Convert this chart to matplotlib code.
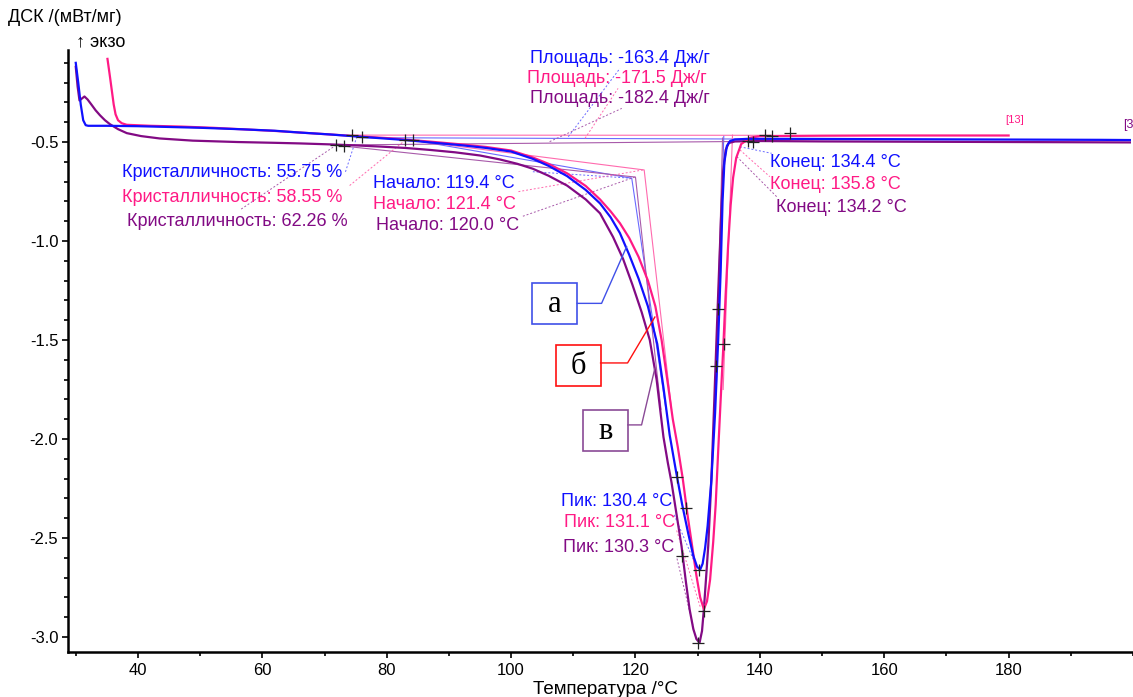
import matplotlib
matplotlib.use('Agg')
import matplotlib.pyplot as plt
from matplotlib.patches import Rectangle
from matplotlib.ticker import MultipleLocator

plt.rcParams['font.family'] = ['Liberation Sans', 'DejaVu Sans']
plt.rcParams['axes.unicode_minus'] = False

# --- curve a (blue) ---
temp_a = [30.0, 30.4, 30.8, 31.2, 31.6, 32.0, 35, 40, 45, 50, 57, 62, 66, 71, 76, 80, 83, 87,
          92, 96, 100, 103.5, 106, 109, 112, 114.3, 116, 117.5, 119, 120.5, 122, 123.5, 124.5,
          125.5, 126.5, 127.5, 128.5, 129.3, 129.9, 130.4, 130.8, 131.2, 131.6, 132.2, 132.8,
          133.3, 133.7, 134.0, 134.3, 134.7, 135.2, 136, 138, 145, 155, 165, 175, 185, 195, 199.5]
dsc_a = [-0.10, -0.20, -0.31, -0.39, -0.415, -0.418, -0.418, -0.420, -0.424, -0.428, -0.436,
         -0.443, -0.452, -0.462, -0.474, -0.483, -0.490, -0.502, -0.516, -0.530, -0.548, -0.585,
         -0.62, -0.672, -0.742, -0.81, -0.88, -0.96, -1.07, -1.19, -1.33, -1.52, -1.74, -1.98,
         -2.16, -2.33, -2.48, -2.59, -2.645, -2.66, -2.63, -2.55, -2.44, -2.21, -1.87, -1.50,
         -1.15, -0.80, -0.60, -0.52, -0.495, -0.487, -0.484, -0.484, -0.485, -0.486, -0.487,
         -0.488, -0.489, -0.49]

# --- curve b (pink) ---
temp_b = [35.1, 35.5, 35.8, 36.1, 36.4, 36.8, 37.4, 38.2, 42, 47, 52, 57, 62, 66, 71, 76, 80, 83,
          87, 92, 96, 100, 103.5, 106, 109, 112, 114.3, 116, 117.5, 119, 120.5, 122, 123.2, 124.2,
          125.2, 126.0, 126.8, 127.6, 128.4, 129.2, 129.8, 130.4, 131.0, 131.5, 132.0, 132.5,
          132.9, 133.3, 133.7, 134.1, 134.5, 134.9, 135.3, 135.7, 136.2, 137.0, 138.5, 140, 150,
          160, 170, 180]
dsc_b = [-0.08, -0.17, -0.24, -0.31, -0.36, -0.39, -0.405, -0.413, -0.418, -0.422, -0.428,
         -0.436, -0.444, -0.452, -0.462, -0.472, -0.480, -0.488, -0.498, -0.512, -0.525, -0.543,
         -0.578, -0.61, -0.658, -0.722, -0.79, -0.85, -0.91, -0.985, -1.08, -1.20, -1.33, -1.50,
         -1.72, -1.90, -2.04, -2.20, -2.39, -2.56, -2.69, -2.80, -2.86, -2.82, -2.71, -2.52,
         -2.33, -2.06, -1.80, -1.55, -1.27, -1.02, -0.82, -0.68, -0.58, -0.51, -0.478, -0.470,
         -0.468, -0.467, -0.467, -0.467]

# --- curve c (purple) ---
temp_c = [30.0, 30.3, 30.6, 31.0, 31.4, 31.9, 32.5, 33.2, 33.9, 34.7, 35.5, 36.8, 38.2, 40.5,
          43.5, 48.8, 56, 62, 66, 71, 75, 79, 83, 87, 91, 95, 98.2, 101, 103.5, 106, 109, 112,
          114.3, 116.4, 118, 119.5, 121, 122.3, 123.4, 124.5, 125.2, 125.8, 126.6, 127.4, 128.1,
          128.7, 129.3, 129.8, 130.3, 130.7, 131.0, 131.4, 131.7, 132.2, 132.6, 133.0, 133.4,
          133.8, 134.1, 134.5, 135.0, 136, 140, 150, 160, 170, 180, 190, 199.5]
dsc_c = [-0.12, -0.22, -0.29, -0.28, -0.27, -0.285, -0.31, -0.34, -0.365, -0.39, -0.41, -0.435,
         -0.455, -0.47, -0.482, -0.493, -0.500, -0.504, -0.507, -0.512, -0.517, -0.523, -0.530,
         -0.540, -0.552, -0.568, -0.588, -0.61, -0.635, -0.67, -0.72, -0.79, -0.86, -0.98, -1.09,
         -1.22, -1.36, -1.50, -1.70, -1.99, -2.12, -2.22, -2.38, -2.54, -2.72, -2.86, -2.96,
         -3.01, -3.03, -2.97, -2.86, -2.68, -2.54, -2.21, -1.87, -1.52, -1.18, -0.85, -0.65,
         -0.54, -0.505, -0.497, -0.495, -0.497, -0.498, -0.499, -0.500, -0.501, -0.502]

# evaluation results per curve
crystallinity = [55.75, 58.55, 62.26]
onset = [119.4, 121.4, 120.0]
area = [-163.4, -171.5, -182.4]
end_temp = [134.4, 135.8, 134.2]
peak_temp = [130.4, 131.1, 130.3]

# integration baselines (left point, right point) per curve
base_left = [(75.7, -0.478), (74.4, -0.465), (71.9, -0.515)]
base_right = [(138.4, -0.485), (141.9, -0.466), (144.8, -0.495)]
# onset construction: baseline start, corner at onset, tangent end
onset_start = [(84.2, -0.49), (83.0, -0.488), (72.9, -0.52)]
onset_corner_y = [-0.683, -0.641, -0.677]
onset_tan_end = [(124.9, -1.85), (125.8, -1.85), (124.1, -1.85)]
# end construction: tangent on trailing edge
end_tan = [((134.2, -0.47), (133.0, -1.75)), ((135.6, -0.465), (134.1, -1.75)),
           ((134.0, -0.48), (132.9, -1.75))]

# black "+" evaluation marks
mark_x = [74.4, 76.0, 71.9, 73.1, 83.0, 84.2, 138.1, 138.9, 140.8, 141.9, 144.8,
          126.6, 128.2, 127.5, 130.2, 131.0, 130.0, 133.3, 134.3, 133.0]
mark_y = [-0.465, -0.476, -0.515, -0.52, -0.49, -0.49, -0.495, -0.498, -0.465, -0.47, -0.455,
          -2.19, -2.35, -2.59, -2.66, -2.87, -3.03, -1.345, -1.52, -1.63]

curve_cols = ['#1010ff', '#ff1a85', '#820a84']
thin_cols = ['#6a6aff', '#ff6aae', '#a85aaa']

fig = plt.figure(figsize=(11.33, 6.97), dpi=100)
ax = fig.add_axes([0.060, 0.0646, 0.940, 0.8637])

# construction lines (thin)
for i in range(3):
    c = thin_cols[i]
    ax.plot([base_left[i][0], base_right[i][0]], [base_left[i][1], base_right[i][1]],
            color=c, lw=0.8)
    ax.plot([onset_start[i][0], onset[i], onset_tan_end[i][0]],
            [onset_start[i][1], onset_corner_y[i], onset_tan_end[i][1]], color=c, lw=0.8)
    ax.plot([end_tan[i][0][0], end_tan[i][1][0]], [end_tan[i][0][1], end_tan[i][1][1]],
            color=c, lw=0.8)

ax.plot(temp_c, dsc_c, color=curve_cols[2], lw=1.6, zorder=3)
ax.plot(temp_b, dsc_b, color=curve_cols[1], lw=1.6, zorder=3)
ax.plot(temp_a, dsc_a, color=curve_cols[0], lw=1.6, zorder=3)

ax.plot(mark_x, mark_y, ls='none', marker='+', ms=8, mew=0.9, color='#222222', zorder=4)

fs = 13
cry_pos = [(37.4, -0.652), (37.4, -0.778), (38.2, -0.899)]
cry_lead = [((75.2, -0.473), (73.3, -0.657)), ((83.0, -0.49), (73.8, -0.726)),
            ((71.9, -0.515), (56.4, -0.843))]
on_pos = [(77.8, -0.712), (77.8, -0.818), (78.3, -0.924)]
on_lead = [((119.4, -0.683), (103.5, -0.65)), ((121.2, -0.641), (101.1, -0.751)),
           ((119.9, -0.677), (101.7, -0.877))]
ar_pos = [(103.0, -0.076), (102.6, -0.177), (103.0, -0.278)]
ar_lead = [((109.2, -0.473), (117.5, -0.128)), ((111.9, -0.481), (117.2, -0.229)),
           ((106.2, -0.498), (117.8, -0.330))]
end_pos = [(141.6, -0.601), (141.6, -0.717), (142.6, -0.833)]
end_lead = [((136.8, -0.524), (141.9, -0.557)), ((136.8, -0.540), (141.6, -0.675)),
            ((136.3, -0.574), (142.7, -0.776))]
pk_pos = [(125.9, -2.318), (126.3, -2.424), (126.3, -2.55)]
pk_lead = [((129.8, -2.645), (126.1, -2.375)), ((130.4, -2.847), (126.6, -2.46)),
           ((129.8, -3.015), (126.6, -2.594))]

for i in range(3):
    c = curve_cols[i]
    tc = thin_cols[i]
    ax.text(*cry_pos[i], f'Кристалличность: {crystallinity[i]:.2f} %', color=c, fontsize=fs,
            va='center', ha='left')
    ax.text(*on_pos[i], f'Начало: {onset[i]:.1f} °C', color=c, fontsize=fs, va='center')
    ax.text(*ar_pos[i], f'Площадь: {area[i]:.1f} Дж/г', color=c, fontsize=fs, va='center')
    ax.text(*end_pos[i], f'Конец: {end_temp[i]:.1f} °C', color=c, fontsize=fs, va='center')
    ax.text(*pk_pos[i], f'Пик: {peak_temp[i]:.1f} °C', color=c, fontsize=fs, va='center',
            ha='right')
    for lead in (cry_lead, on_lead, ar_lead, end_lead, pk_lead):
        (x0, y0), (x1, y1) = lead[i]
        ax.plot([x0, x1], [y0, y1], color=tc, lw=0.7, ls=(0, (2, 2)))

# sample label boxes
box_txt = ['а', 'б', 'в']
box_xy = [(103.39, -1.419), (107.20, -1.732), (111.59, -2.061)]
box_col = ['#4050e8', '#ff1010', '#8a4a96']
box_lead = [([110.63, 114.55, 118.57], [-1.315, -1.315, -1.029]),
            ([114.39, 118.73, 123.12], [-1.616, -1.616, -1.384]),
            ([118.78, 120.98, 123.12], [-1.929, -1.929, -1.643])]
for i in range(3):
    x0, y0 = box_xy[i]
    ax.add_patch(Rectangle((x0, y0), 7.2, 0.207, fill=True, facecolor='white',
                           edgecolor=box_col[i], lw=1.2, zorder=5))
    ax.text(x0 + 3.6, y0 + 0.1, box_txt[i], family='Liberation Serif', fontsize=22,
            ha='center', va='center', zorder=6)
    ax.plot(*box_lead[i], color=box_col[i], lw=1.0, zorder=5)

ax.text(179.4, -0.389, '[13]', color=curve_cols[1], fontsize=8, ha='left', va='center')
ax.text(200, -0.414, '[3', color=curve_cols[2], fontsize=9, ha='right', va='center',
        clip_on=False)

ax.set_xlim(28.75, 200)
ax.set_ylim(-3.076, -0.035)
ax.xaxis.set_minor_locator(MultipleLocator(10))
ax.yaxis.set_minor_locator(MultipleLocator(0.1))
ax.set_xticks([40, 60, 80, 100, 120, 140, 160, 180])
ax.set_yticks([-3.0, -2.5, -2.0, -1.5, -1.0, -0.5])
ax.tick_params(axis='both', which='major', length=4, width=1.2, labelsize=12)
ax.tick_params(axis='both', which='minor', length=3, width=1.2)
ax.tick_params(axis='y', pad=3)
ax.tick_params(axis='x', pad=4)
for s in ('top', 'right'):
    ax.spines[s].set_visible(False)
for s in ('left', 'bottom'):
    ax.spines[s].set_linewidth(1.8)

fig.text(8 / 1133, 1 - 18 / 697, 'ДСК /(мВт/мг)', fontsize=13, va='center', ha='left')
fig.text(76 / 1133, 1 - 42 / 697, '↑ экзо', fontsize=13, va='center', ha='left')
fig.text(605 / 1133, 1 - 689 / 697, 'Температура /°C', fontsize=13.5, va='center',
         ha='center')

fig.savefig('out.png', dpi=100)
